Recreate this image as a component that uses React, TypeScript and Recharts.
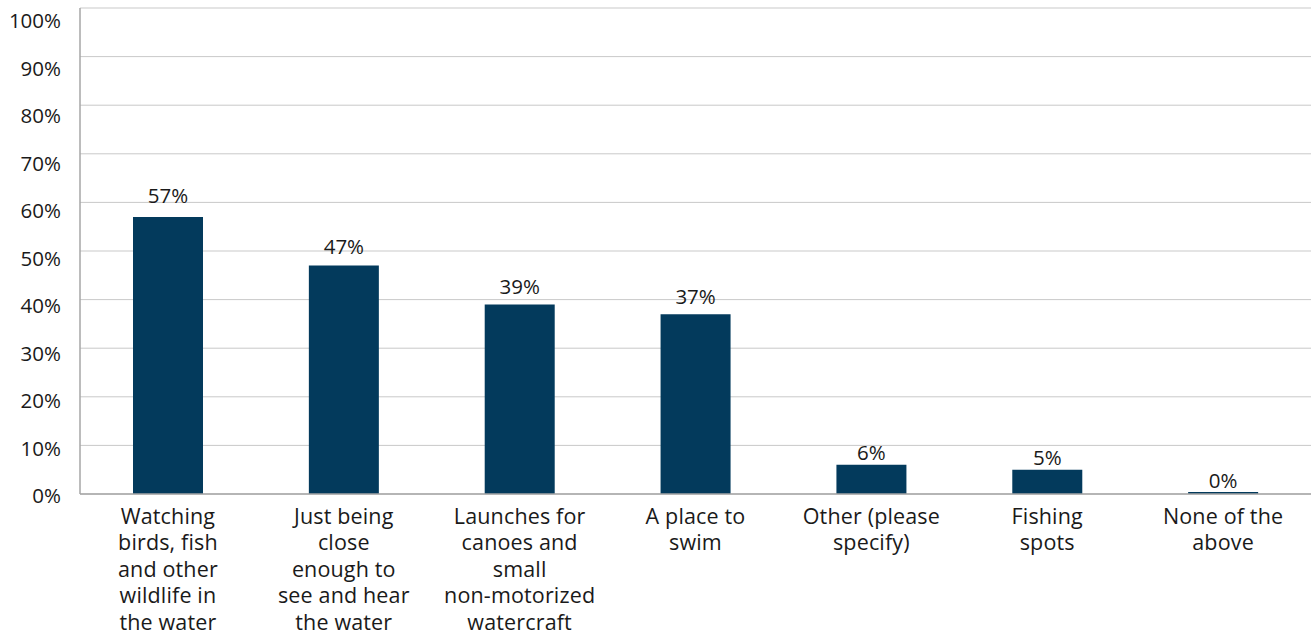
import React from "react";
import { BarChart, Bar, XAxis, YAxis, CartesianGrid, LabelList } from "recharts";

const categories: string[][] = [
  ["Watching", "birds, fish", "and other", "wildlife in", "the water"],
  ["Just being", "close", "enough to", "see and hear", "the water"],
  ["Launches for", "canoes and", "small", "non-motorized", "watercraft"],
  ["A place to", "swim"],
  ["Other (please", "specify)"],
  ["Fishing", "spots"],
  ["None of the", "above"],
];
const values: number[] = [57, 47, 39, 37, 6, 5, 0.4];
const yTicks: number[] = [0, 10, 20, 30, 40, 50, 60, 70, 80, 90, 100];

const data = categories.map((c, i) => ({ key: String(i), value: values[i] }));

const FONT = "'Open Sans', 'Noto Sans', sans-serif";
const FS = 20.5;

const XTick = (props: any) => {
  const { x, y, payload } = props;
  const lines: string[] = categories[Number(payload.value)] || [];
  return (
    <text x={x} y={y} textAnchor="middle" fill="#1a1a1a" fontSize={21.5} letterSpacing={0.15} fontFamily={FONT}>
      {lines.map((l, i) => (
        <tspan key={i} x={x} dy={i === 0 ? 29.5 : 26.6}>
          {l}
        </tspan>
      ))}
    </text>
  );
};

const YTick = (props: any) => {
  const { x, y, payload } = props;
  const v = Number(payload.value);
  const shift = 2 + (v / 100) * 11;
  return (
    <text x={x} y={y + shift} dy="0.355em" textAnchor="end" fill="#1a1a1a" fontSize={FS} fontFamily={FONT}>
      {`${v}%`}
    </text>
  );
};

const BarLabel = (props: any) => {
  const { x, y, width, value } = props;
  const v = Number(value);
  const gap = 4 + v * 0.17;
  return (
    <text x={Number(x) + Number(width) / 2} y={Number(y) - gap} textAnchor="middle" fill="#1a1a1a" fontSize={FS} fontFamily={FONT}>
      {`${Math.round(v)}%`}
    </text>
  );
};

export default function App() {
  return (
    <div style={{ position: "absolute", left: 0, top: 0, width: 1311, height: 637, background: "#fff" }}>
      <BarChart
        width={1311}
        height={637}
        data={data}
        margin={{ top: 8, right: 0, bottom: 0, left: 0 }}
      >
        <CartesianGrid vertical={false} stroke="#c9c9c9" strokeWidth={1} />
        <XAxis
          dataKey="key"
          tick={<XTick />}
          tickLine={false}
          tickSize={0}
          tickMargin={0}
          height={143}
          interval={0}
          axisLine={{ stroke: "#a6a6a6", strokeWidth: 1.5 }}
        />
        <YAxis
          domain={[0, 100]}
          ticks={yTicks}
          interval={0}
          width={80}
          tickLine={false}
          tickSize={0}
          tickMargin={19}
          tick={<YTick />}
          axisLine={{ stroke: "#a6a6a6", strokeWidth: 1.5 }}
        />
        <Bar dataKey="value" fill="#033a5c" isAnimationActive={false} barSize={70}>
          <LabelList dataKey="value" content={<BarLabel />} />
        </Bar>
      </BarChart>
    </div>
  );
}
